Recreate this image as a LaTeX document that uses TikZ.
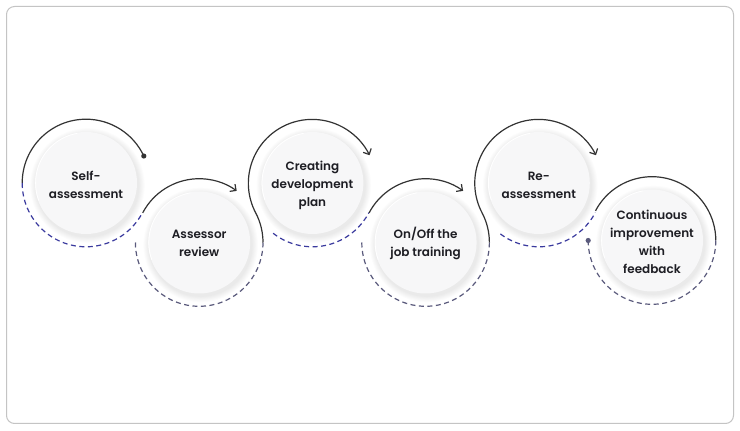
\documentclass[tikz,border=0pt]{standalone}
\usepackage{fontspec}
\newfontfamily\popsb{Poppins SemiBold}
\usetikzlibrary{arrows.meta,calc}
\definecolor{arcdark}{HTML}{333333}
\definecolor{dashblue}{HTML}{3A3A9E}
\definecolor{dashgray}{HTML}{5A5A7C}
\definecolor{discfill}{HTML}{F7F7F8}
\definecolor{framegray}{HTML}{C4C4C4}
\definecolor{txt}{HTML}{1E1E24}
\def\R{63.8}
\def\Ri{51}
\tikzset{
  solidarc/.style={draw=arcdark,line width=1.2pt},
  dashup/.style={draw=dashblue,line width=1.2pt,dash pattern=on 5pt off 3.5pt},
  dashdown/.style={draw=dashgray,line width=1.2pt,dash pattern=on 5pt off 3.5pt},
  tipbarb/.style={-{Straight Barb[length=4.5pt,width=9pt,line width=1.2pt]}},
  label/.style={font=\popsb\fontsize{12}{18}\selectfont,text=txt,align=center,inner sep=0pt},
}
\newcommand{\disc}[1]{%
  \foreach \k in {1,...,7}{
    \fill[black,opacity=0.012] ($(#1)+(1.5,-2.5)$) circle[radius=\Ri+\k*0.9];
  }
  \fill[discfill] (#1) circle[radius=\Ri];
  \draw[white,line width=0.8pt] (#1) ++(100:\Ri-0.6) arc[start angle=100,end angle=200,radius=\Ri-0.6];
}
\begin{document}
\begin{tikzpicture}[x=1pt,y=1pt]
\useasboundingbox (0,0) rectangle (740,431);
\fill[white] (0,0) rectangle (740,431);
\draw[framegray,line width=1pt,rounded corners=8pt] (6.5,7.5) rectangle (733.5,424.5);

% centres
\coordinate (c1) at (86,248);
\coordinate (c2) at (199.2,188.5);
\coordinate (c3) at (312.4,248);
\coordinate (c4) at (425.6,188.5);
\coordinate (c5) at (538.8,248);
\coordinate (c6) at (652,190.5);

\foreach \c in {c1,c2,c3,c4,c5,c6}{\disc{\c}}

% circle 1
\draw[solidarc] (c1) ++(180:\R) arc[start angle=180,end angle=25,radius=\R] coordinate (d1);
\fill[arcdark] (d1) circle[radius=2.6];
\draw[dashup] (c1) ++(180:\R) arc[start angle=180,end angle=332.3,radius=\R];
% circle 2
\draw[solidarc,tipbarb] (c2) ++(152.3:\R) arc[start angle=152.3,end angle=54,radius=\R];
\draw[dashdown] (c2) ++(180:\R) arc[start angle=180,end angle=360,radius=\R];
% circle 2 -> 3
\draw[solidarc,tipbarb] (c2) ++(0:\R) arc[start angle=0,end angle=27.7,radius=\R]
  arc[start angle=207.7,end angle=26,radius=\R];
\draw[dashup] (c3) ++(232:\R) arc[start angle=232,end angle=332.3,radius=\R];
% circle 4
\draw[solidarc,tipbarb] (c4) ++(152.3:\R) arc[start angle=152.3,end angle=54,radius=\R];
\draw[dashdown] (c4) ++(180:\R) arc[start angle=180,end angle=360,radius=\R];
% circle 4 -> 5
\draw[solidarc,tipbarb] (c4) ++(0:\R) arc[start angle=0,end angle=27.7,radius=\R]
  arc[start angle=207.7,end angle=26,radius=\R];
\draw[dashup] (c5) ++(233:\R) arc[start angle=233,end angle=332.3,radius=\R];
% circle 6
\draw[solidarc] (c6) ++(152.3:\R) arc[start angle=152.3,end angle=0,radius=\R];
\draw[dashdown] (c6) ++(0:\R) arc[start angle=0,end angle=-180,radius=\R] coordinate (d6);
\fill[dashgray] (d6) circle[radius=2.6];

% labels
\node[label] (t1) at ($(c1)+(0,-2)$) {Self-\\assessment};
\node[label] (t2) at ($(c2)+(0,-1)$) {Assessor\\review};
\node[label] (t3) at ($(c3)+(0,-2)$) {Creating\\development\\plan};
\node[label] (t4) at ($(c4)+(0,-1)$) {On/Off the\\job training};
\node[label] (t5) at ($(c5)+(0,-2)$) {Re-\\assessment};
\node[label] (t6) at ($(c6)+(0,-1)$) {Continuous\\improvement\\with\\feedback};
\end{tikzpicture}
\end{document}
